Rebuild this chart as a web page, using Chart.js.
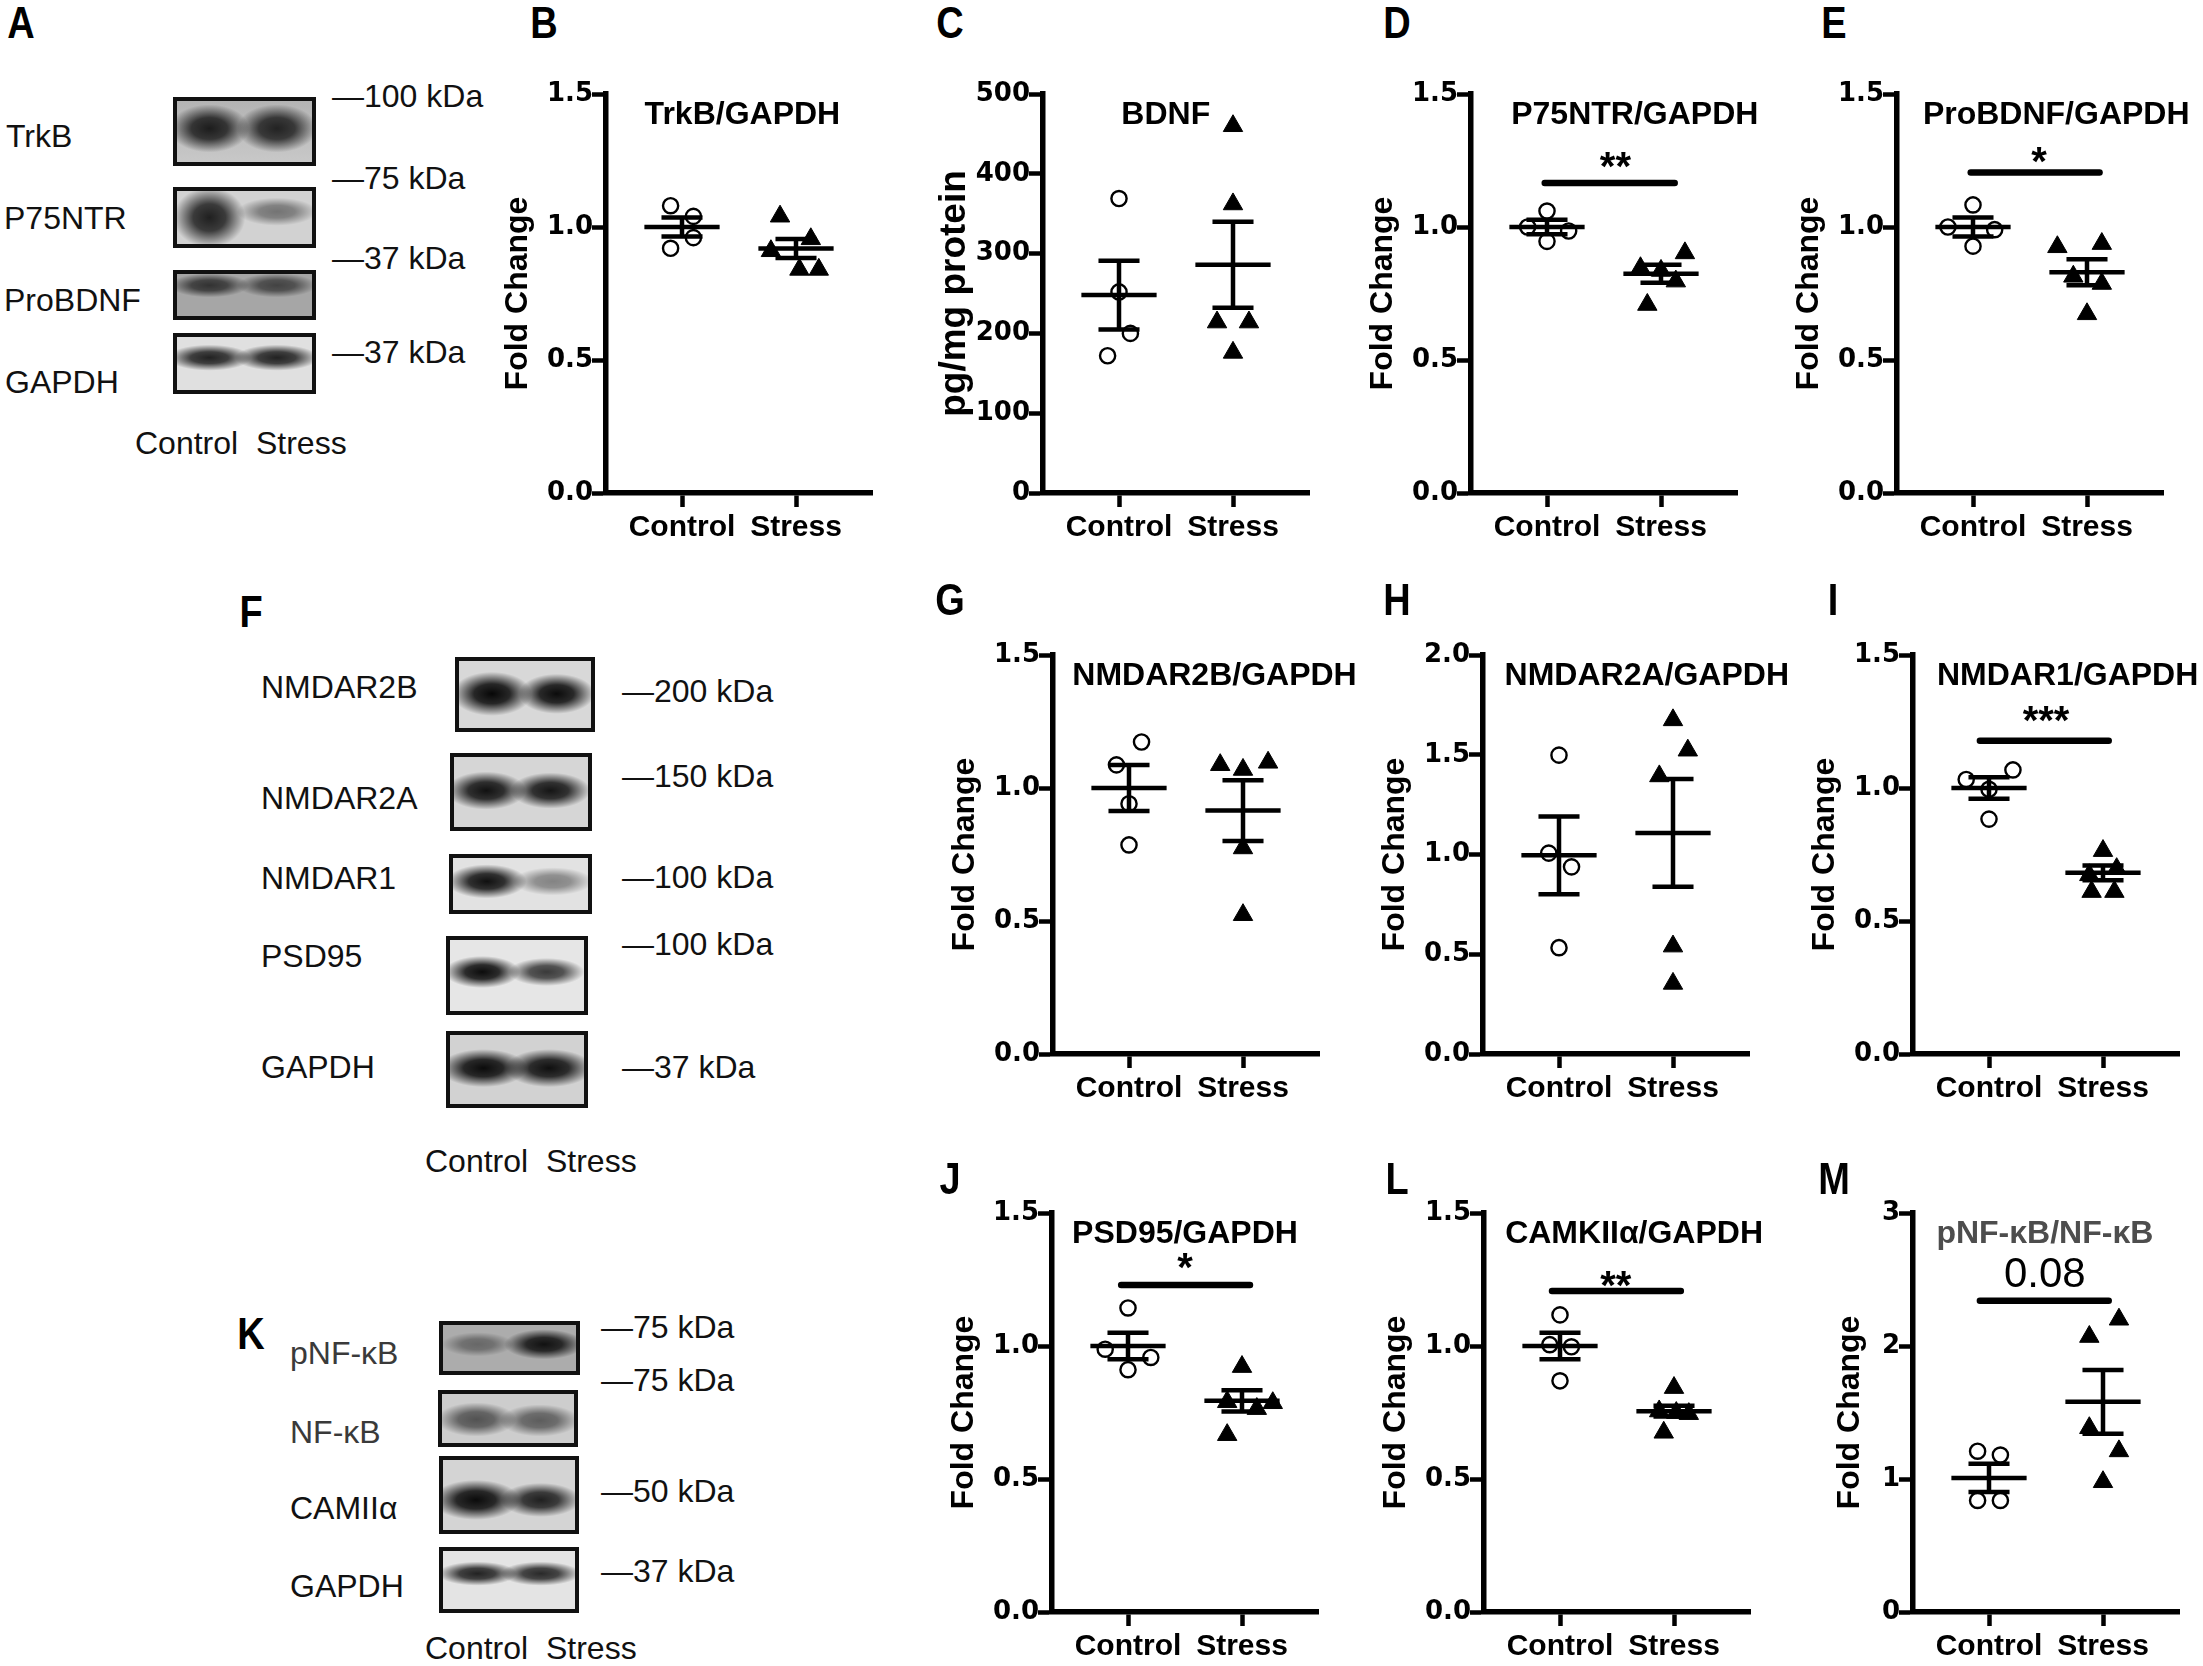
<!DOCTYPE html>
<html>
<head>
<meta charset="utf-8">
<script src="https://cdn.jsdelivr.net/npm/chart.js"></script>
<style>
  body { margin: 0; background: #fff; }
  #page { position: relative; width: 2203px; height: 1666px; overflow: hidden; background: #fff;
          font-family: 'Liberation Sans', Arial, sans-serif; }
  .lbl { position: absolute; font-size: 32px; line-height: 1; transform: translateY(-50%); white-space: pre; color: #111; }
  .letter { position: absolute; font-size: 38px; font-weight: bold; line-height: 1; transform: translate(-50%, -50%) scaleY(1.15); }
  .blot { position: absolute; box-sizing: border-box; border: 4px solid #111; }
  canvas.panel { position: absolute; }
</style>
</head>
<body>
<div id="page"></div>
<script>
'use strict';

// ---------- values ----------
let groups = ['Control', 'Stress'];
let foldTicks = [0, 0.5, 1.0, 1.5];
let bdnfTicks = [0, 100, 200, 300, 400, 500];
let nr2aTicks = [0, 0.5, 1.0, 1.5, 2.0];
let nfkbTicks = [0, 1, 2, 3];

let trkbCtrl = [1.08, 1.04, 0.96, 0.92];
let trkbStress = [1.04, 0.955, 0.91, 0.84, 0.84];
let trkbMean = [1.0, 0.919];
let trkbSem = [0.036, 0.036];

let bdnfCtrl = [369, 252, 200, 172];
let bdnfStress = [460, 362, 214, 214, 176];
let bdnfMean = [248, 286];
let bdnfSem = [43, 54];

let p75Ctrl = [1.06, 1.0, 0.985, 0.946];
let p75Stress = [0.902, 0.846, 0.836, 0.796, 0.708];
let p75Mean = [1.0, 0.824];
let p75Sem = [0.027, 0.034];

let probCtrl = [1.083, 1.0, 0.99, 0.928];
let probStress = [0.925, 0.937, 0.814, 0.787, 0.673];
let probMean = [1.0, 0.83];
let probSem = [0.036, 0.049];

let nr2bCtrl = [1.173, 1.087, 0.941, 0.786];
let nr2bStress = [1.087, 1.069, 1.096, 0.774, 0.523];
let nr2bMean = [1.0, 0.915];
let nr2bSem = [0.086, 0.114];

let nr2aCtrl = [1.498, 1.007, 0.938, 0.533];
let nr2aStress = [1.674, 1.522, 1.393, 0.54, 0.353];
let nr2aMean = [0.996, 1.108];
let nr2aSem = [0.195, 0.27];

let nr1Ctrl = [1.032, 0.995, 1.068, 0.883];
let nr1Stress = [0.764, 0.673, 0.696, 0.61, 0.61];
let nr1Mean = [1.0, 0.681];
let nr1Sem = [0.04, 0.028];

let psdCtrl = [1.143, 0.988, 0.957, 0.911];
let psdStress = [0.922, 0.79, 0.786, 0.764, 0.666];
let psdMean = [1.0, 0.794];
let psdSem = [0.05, 0.04];

let camCtrl = [1.117, 1.005, 0.997, 0.869];
let camStress = [0.843, 0.755, 0.749, 0.745, 0.675];
let camMean = [1.0, 0.755];
let camSem = [0.05, 0.02];

let nfkbCtrl = [1.209, 1.18, 0.839, 0.839];
let nfkbStress = [2.2, 2.07, 1.384, 1.21, 0.978];
let nfkbMean = [1.008, 1.58];
let nfkbSem = [0.106, 0.24];

// horizontal scatter of the dots (in group units)
let spread = {
  trkb: [[-0.1, 0.1, 0.1, -0.1], [-0.14, 0.13, -0.22, 0.03, 0.2]],
  bdnf: [[0, 0, 0.1, -0.1], [0, 0, -0.14, 0.14, 0]],
  p75: [[0, -0.17, 0.19, 0], [0.21, -0.18, 0, 0.13, -0.12]],
  prob: [[0, -0.22, 0.19, 0], [-0.26, 0.13, -0.12, 0.13, 0]],
  nr2b: [[0.11, -0.11, 0, 0], [-0.2, 0, 0.22, 0, 0]],
  nr2a: [[0, -0.09, 0.11, 0], [0, 0.13, -0.12, 0, 0]],
  nr1: [[-0.2, 0, 0.21, 0], [0, -0.12, 0.12, -0.1, 0.1]],
  psd: [[0, -0.2, 0.2, 0], [0, -0.13, 0.27, 0.13, -0.13]],
  cam: [[0, -0.09, 0.1, 0], [0, -0.13, 0.02, 0.13, -0.09]],
  nfkb: [[-0.1, 0.1, -0.1, 0.1], [0.14, -0.12, -0.12, 0.14, 0]]
};

let FONT = "'Liberation Sans', Arial, sans-serif";
Chart.defaults.font.family = FONT;
Chart.defaults.color = '#000';

let page = document.getElementById('page');

// ---------- chart panels ----------
let panels = [
  {title: 'TrkB/GAPDH', tx: 1.53, ax: 606, top: 94, ctrl: trkbCtrl, stress: trkbStress, mean: trkbMean, sem: trkbSem, jit: spread.trkb, ticks: foldTicks, dec: 1, yTitle: 'Fold Change'},
  {title: 'BDNF', tx: 1.41, ax: 1043, top: 94, ctrl: bdnfCtrl, stress: bdnfStress, mean: bdnfMean, sem: bdnfSem, jit: spread.bdnf, ticks: bdnfTicks, dec: 0, yTitle: 'pg/mg protein', yTitleSize: 37},
  {title: 'P75NTR/GAPDH', tx: 1.77, ax: 1471, top: 94, ctrl: p75Ctrl, stress: p75Stress, mean: p75Mean, sem: p75Sem, jit: spread.p75, ticks: foldTicks, dec: 1, yTitle: 'Fold Change',
   sig: {x: [0.98, 2.12], y: 1.165, text: '**', lx: 1.6, ly: 1.177}},
  {title: 'ProBDNF/GAPDH', tx: 1.73, ax: 1897, top: 94, ctrl: probCtrl, stress: probStress, mean: probMean, sem: probSem, jit: spread.prob, ticks: foldTicks, dec: 1, yTitle: 'Fold Change',
   sig: {x: [0.98, 2.11], y: 1.205, text: '*', lx: 1.58, ly: 1.195}},
  {title: 'NMDAR2B/GAPDH', tx: 1.75, ax: 1053, top: 655, ctrl: nr2bCtrl, stress: nr2bStress, mean: nr2bMean, sem: nr2bSem, jit: spread.nr2b, ticks: foldTicks, dec: 1, yTitle: 'Fold Change'},
  {title: 'NMDAR2A/GAPDH', tx: 1.77, ax: 1483, top: 655, ctrl: nr2aCtrl, stress: nr2aStress, mean: nr2aMean, sem: nr2aSem, jit: spread.nr2a, ticks: nr2aTicks, dec: 1, yTitle: 'Fold Change'},
  {title: 'NMDAR1/GAPDH', tx: 1.69, ax: 1913, top: 655, ctrl: nr1Ctrl, stress: nr1Stress, mean: nr1Mean, sem: nr1Sem, jit: spread.nr1, ticks: foldTicks, dec: 1, yTitle: 'Fold Change',
   sig: {x: [0.92, 2.05], y: 1.178, text: '***', lx: 1.5, ly: 1.203}},
  {title: 'PSD95/GAPDH', tx: 1.5, ax: 1052, top: 1213, ctrl: psdCtrl, stress: psdStress, mean: psdMean, sem: psdSem, jit: spread.psd, ticks: foldTicks, dec: 1, yTitle: 'Fold Change',
   sig: {x: [0.94, 2.07], y: 1.229, text: '*', lx: 1.5, ly: 1.246}},
  {title: 'CAMKIIα/GAPDH', tx: 1.65, ax: 1484, top: 1213, ctrl: camCtrl, stress: camStress, mean: camMean, sem: camSem, jit: spread.cam, ticks: foldTicks, dec: 1, yTitle: 'Fold Change',
   sig: {x: [0.93, 2.06], y: 1.207, text: '**', lx: 1.49, ly: 1.178}},
  {title: 'pNF-κB/NF-κB', tx: 1.49, titleColor: '#4d4d4d', ax: 1913, top: 1213, ctrl: nfkbCtrl, stress: nfkbStress, mean: nfkbMean, sem: nfkbSem, jit: spread.nfkb, ticks: nfkbTicks, dec: 0, yTitle: 'Fold Change', yTitleShift: 25,
   sig: {x: [0.92, 2.05], y: 2.34, text: '0.08', lx: 1.49, ly: 2.44, font: '42px ' + FONT}}
];

let PAD_L = 120, PAD_T = 40, PAD_R = 45, PAD_B = 80, PLOT_W = 266, PLOT_H = 399;

let decoPlugin = {
  id: 'deco',
  afterDatasetsDraw(chart) {
    let p = chart.options.plugins.deco;
    let xs = chart.scales.x, ys = chart.scales.y;
    let ctx = chart.ctx;
    ctx.save();
    ctx.strokeStyle = '#000';
    ctx.lineWidth = 4.5;
    ctx.lineCap = 'butt';
    ctx.beginPath();
    p.mean.forEach(function (m, i) {
      let cx = i + 1;
      let yM = ys.getPixelForValue(m);
      let yHi = ys.getPixelForValue(m + p.sem[i]);
      let yLo = ys.getPixelForValue(m - p.sem[i]);
      ctx.moveTo(xs.getPixelForValue(cx - 0.33), yM);
      ctx.lineTo(xs.getPixelForValue(cx + 0.33), yM);
      ctx.moveTo(xs.getPixelForValue(cx), yHi);
      ctx.lineTo(xs.getPixelForValue(cx), yLo);
      ctx.moveTo(xs.getPixelForValue(cx - 0.18), yHi);
      ctx.lineTo(xs.getPixelForValue(cx + 0.18), yHi);
      ctx.moveTo(xs.getPixelForValue(cx - 0.18), yLo);
      ctx.lineTo(xs.getPixelForValue(cx + 0.18), yLo);
    });
    ctx.stroke();

    // panel title
    ctx.fillStyle = p.titleColor || '#000';
    ctx.font = 'bold 32px ' + FONT;
    ctx.textAlign = 'center';
    ctx.textBaseline = 'alphabetic';
    ctx.fillText(p.title, xs.getPixelForValue(p.tx), chart.chartArea.top + 30);

    // significance bar
    if (p.sig) {
      let s = p.sig;
      ctx.lineWidth = 6.5;
      ctx.lineCap = 'round';
      ctx.beginPath();
      ctx.moveTo(xs.getPixelForValue(s.x[0]), ys.getPixelForValue(s.y));
      ctx.lineTo(xs.getPixelForValue(s.x[1]), ys.getPixelForValue(s.y));
      ctx.stroke();
      ctx.fillStyle = '#000';
      ctx.font = s.font || 'bold 40px ' + FONT;
      ctx.fillText(s.text, xs.getPixelForValue(s.lx), ys.getPixelForValue(s.ly));
    }
    ctx.restore();
  }
};

function makePanel(p) {
  let cv = document.createElement('canvas');
  cv.className = 'panel';
  let w = PAD_L + PLOT_W + PAD_R, h = PAD_T + PLOT_H + PAD_B;
  cv.width = w; cv.height = h;
  cv.style.left = (p.ax - PAD_L) + 'px';
  cv.style.top = (p.top - PAD_T) + 'px';
  cv.style.width = w + 'px'; cv.style.height = h + 'px';
  page.appendChild(cv);

  let yMax = p.ticks[p.ticks.length - 1];
  let tSize = p.yTitleSize || 32;
  new Chart(cv.getContext('2d'), {
    type: 'scatter',
    data: {
      datasets: [
        {data: p.ctrl.map((v, i) => ({x: 1 + p.jit[0][i], y: v})),
         pointStyle: 'circle', pointRadius: 7.6, pointHoverRadius: 7.6,
         backgroundColor: '#fff', borderColor: '#000', borderWidth: 2.4, clip: false},
        {data: p.stress.map((v, i) => ({x: 2 + p.jit[1][i], y: v})),
         pointStyle: 'triangle', pointRadius: 11.2, pointHoverRadius: 11.2,
         backgroundColor: '#000', borderColor: '#000', borderWidth: 1, clip: false}
      ]
    },
    options: {
      responsive: false,
      animation: false,
      devicePixelRatio: 1,
      layout: {padding: {left: 0, top: PAD_T, right: PAD_R, bottom: 0}},
      plugins: {
        legend: {display: false},
        tooltip: {enabled: false},
        deco: {title: p.title, tx: p.tx, titleColor: p.titleColor, mean: p.mean, sem: p.sem, sig: p.sig}
      },
      scales: {
        x: {
          type: 'linear', min: 1 / 3, max: 8 / 3,
          afterBuildTicks: s => { s.ticks = [{value: 1}, {value: 2}]; },
          afterFit: s => { s.height = PAD_B; },
          grid: {drawOnChartArea: false, drawTicks: true, tickLength: 14, tickWidth: 4.5, tickColor: '#000', color: '#000'},
          border: {display: true, width: 5.5, color: '#000'},
          ticks: {autoSkip: false, maxRotation: 0, padding: 3, color: '#000',
                  font: {size: 30, weight: 'bold'},
                  callback: v => groups[Math.round(v) - 1]}
        },
        y: {
          type: 'linear', min: 0, max: yMax,
          afterBuildTicks: s => { s.ticks = p.ticks.map(v => ({value: v})); },
          afterFit: s => { s.width = PAD_L; },
          grid: {drawOnChartArea: false, drawTicks: true, tickLength: 14, tickWidth: 4.5, tickColor: '#000', color: '#000'},
          border: {display: true, width: 5.5, color: '#000'},
          ticks: {padding: -1, color: '#000', font: {family: "'DejaVu Sans', sans-serif", size: 26, weight: 'bold'},
                  callback: v => v.toFixed(p.dec)},
          title: {display: true, text: p.yTitle, color: '#000',
                  font: {size: tSize, weight: 'bold', lineHeight: 1.2},
                  padding: {top: 32 - tSize * 0.6 + (p.yTitleShift || 0), bottom: 0}}
        }
      }
    },
    plugins: [decoPlugin]
  });
}

panels.forEach(makePanel);

// ---------- western blot images, labels, letters ----------
function addText(txt, x, y, color) {
  let d = document.createElement('div');
  d.className = 'lbl';
  d.textContent = txt;
  d.style.left = x + 'px';
  d.style.top = y + 'px';
  if (color) d.style.color = color;
  page.appendChild(d);
}

// band: [lane x %, band y %, half width px, half height px, darkness]
function addBlot(x, y, w, h, bg, bands) {
  let d = document.createElement('div');
  d.className = 'blot';
  d.style.left = x + 'px'; d.style.top = y + 'px';
  d.style.width = w + 'px'; d.style.height = h + 'px';
  let layers = bands.map(b =>
    'radial-gradient(' + b[2] + 'px ' + b[3] + 'px at ' + b[0] + '% ' + b[1] + '%, rgba(0,0,0,' + b[4] + ') 0%, rgba(0,0,0,' +
    (b[4] * 0.85).toFixed(2) + ') 45%, rgba(0,0,0,0) 100%)');
  d.style.background = layers.join(', ') + ', ' + bg;
  page.appendChild(d);
}

// panel A
addBlot(173, 97, 143, 69, 'linear-gradient(#b4b4b4, #c8c8c8)', [[24, 45, 40, 24, 0.85], [74, 45, 40, 24, 0.82]]);
addBlot(173, 187, 143, 61, '#d2d2d2', [[24, 50, 36, 30, 0.85], [74, 39, 40, 14, 0.45]]);
addBlot(173, 270, 143, 50, '#a6a6a6', [[24, 27, 40, 12, 0.7], [74, 27, 40, 12, 0.6]]);
addBlot(173, 333, 143, 61, '#e0e0e0', [[24, 39, 42, 13, 0.85], [74, 39, 42, 13, 0.85]]);
addText('TrkB', 6, 136);
addText('P75NTR', 4, 218);
addText('ProBDNF', 4, 300);
addText('GAPDH', 5, 382);
addText('—100 kDa', 332, 96);
addText('—75 kDa', 332, 178);
addText('—37 kDa', 332, 258);
addText('—37 kDa', 332, 352);
addText('Control  Stress', 135, 443);

// panel F
addBlot(455, 657, 140, 75, '#d8d8d8', [[25, 49, 40, 22, 0.97], [74, 49, 38, 20, 0.95]]);
addBlot(450, 753, 142, 78, '#d6d6d6', [[24, 48, 40, 19, 0.92], [72, 48, 40, 18, 0.9]]);
addBlot(449, 854, 143, 60, '#e2e2e2', [[25, 45, 40, 17, 0.93], [74, 45, 40, 14, 0.42]]);
addBlot(446, 936, 142, 79, '#e6e6e6', [[24, 45, 38, 16, 0.95], [72, 45, 38, 14, 0.75]]);
addBlot(446, 1031, 142, 77, '#d2d2d2', [[25, 48, 44, 19, 0.95], [74, 48, 44, 19, 0.93]]);
addText('NMDAR2B', 261, 687);
addText('NMDAR2A', 261, 798);
addText('NMDAR1', 261, 878);
addText('PSD95', 261, 956);
addText('GAPDH', 261, 1067);
addText('—200 kDa', 622, 691);
addText('—150 kDa', 622, 776);
addText('—100 kDa', 622, 877);
addText('—100 kDa', 622, 944);
addText('—37 kDa', 622, 1067);
addText('Control  Stress', 425, 1161);

// panel K
addBlot(439, 1321, 141, 54, '#acacac', [[26, 42, 36, 12, 0.4], [76, 42, 40, 15, 0.9]]);
addBlot(438, 1390, 140, 57, '#cdcdcd', [[26, 52, 40, 17, 0.6], [74, 54, 40, 16, 0.55]]);
addBlot(439, 1456, 140, 78, '#d4d4d4', [[25, 57, 44, 20, 0.95], [74, 57, 40, 17, 0.85]]);
addBlot(439, 1547, 140, 66, '#e4e4e4', [[26, 39, 40, 12, 0.85], [74, 39, 40, 12, 0.82]]);
addText('pNF-κB', 290, 1353, '#3a3a3a');
addText('NF-κB', 290, 1432, '#3a3a3a');
addText('CAMIIα', 290, 1508);
addText('GAPDH', 290, 1586);
addText('—75 kDa', 601, 1327);
addText('—75 kDa', 601, 1380);
addText('—50 kDa', 601, 1491);
addText('—37 kDa', 601, 1571);
addText('Control  Stress', 425, 1648);

let letters = [['A', 21, 23], ['B', 544, 23], ['C', 950, 23], ['D', 1397, 23], ['E', 1834, 23],
               ['F', 251, 612], ['G', 950, 600], ['H', 1397, 600], ['I', 1833, 600],
               ['J', 950, 1179], ['K', 251, 1334], ['L', 1397, 1179], ['M', 1834, 1179]];
letters.forEach(function (l) {
  let d = document.createElement('div');
  d.className = 'letter';
  d.textContent = l[0];
  d.style.left = l[1] + 'px';
  d.style.top = l[2] + 'px';
  page.appendChild(d);
});
</script>
</body>
</html>
